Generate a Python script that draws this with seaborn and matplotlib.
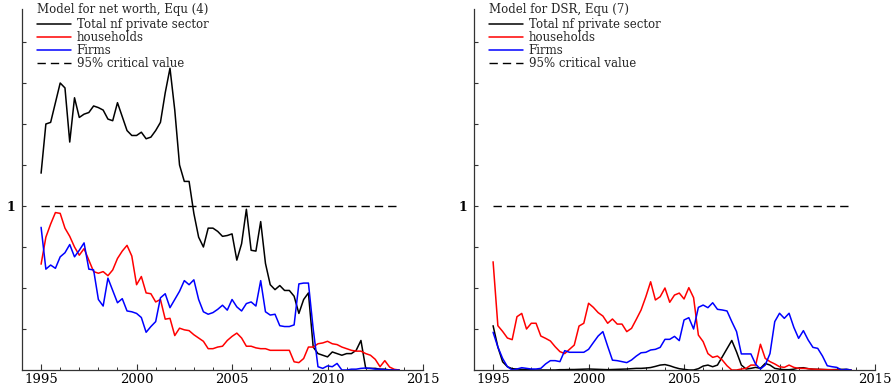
import numpy as np
import pandas as pd
import matplotlib
matplotlib.use("Agg")
import matplotlib.pyplot as plt
from matplotlib.ticker import FixedLocator, MultipleLocator, FuncFormatter
import seaborn as sns

# ---------------- data (quarterly, 1995Q1 .. 2013Q4) ----------------
quarters = np.arange(1995.0, 2014.0, 0.25)

nw_total = [1.20, 1.50, 1.51, 1.63, 1.75, 1.72, 1.39, 1.66, 1.54, 1.56,
            1.57, 1.61, 1.60, 1.585, 1.53, 1.52, 1.63, 1.545, 1.46, 1.43,
            1.43, 1.45, 1.41, 1.42, 1.46, 1.51, 1.69, 1.84, 1.585, 1.25,
            1.15, 1.15, 0.955, 0.81, 0.75, 0.865, 0.865, 0.845, 0.815, 0.82,
            0.83, 0.67, 0.77, 0.98, 0.73, 0.725, 0.905, 0.65, 0.52, 0.49,
            0.515, 0.485, 0.485, 0.45, 0.345, 0.43, 0.47, 0.14, 0.10, 0.09,
            0.08, 0.11, 0.10, 0.09, 0.10, 0.10, 0.12, 0.18, 0.01, 0.01,
            0.01, 0.005, 0.005, 0.0, 0.0, 0.0]
nw_households = [0.645, 0.81, 0.89, 0.96, 0.955, 0.865, 0.815, 0.75, 0.70, 0.74,
                 0.67, 0.60, 0.59, 0.60, 0.575, 0.61, 0.68, 0.725, 0.76, 0.695,
                 0.52, 0.57, 0.47, 0.465, 0.415, 0.43, 0.31, 0.315, 0.21, 0.255,
                 0.245, 0.24, 0.215, 0.195, 0.175, 0.13, 0.13, 0.14, 0.145, 0.18,
                 0.205, 0.225, 0.195, 0.145, 0.145, 0.135, 0.13, 0.13, 0.12, 0.12,
                 0.12, 0.12, 0.12, 0.05, 0.045, 0.07, 0.14, 0.14, 0.16, 0.165,
                 0.175, 0.16, 0.155, 0.14, 0.13, 0.12, 0.115, 0.115, 0.10, 0.09,
                 0.065, 0.02, 0.057, 0.018, 0.004, 0.0]
nw_firms = [0.87, 0.615, 0.64, 0.62, 0.69, 0.715, 0.765, 0.69, 0.73, 0.775,
            0.615, 0.61, 0.43, 0.39, 0.56, 0.485, 0.41, 0.435, 0.36, 0.355,
            0.345, 0.32, 0.23, 0.265, 0.295, 0.44, 0.465, 0.38, 0.43, 0.48,
            0.545, 0.52, 0.55, 0.43, 0.355, 0.34, 0.35, 0.37, 0.395, 0.365,
            0.43, 0.385, 0.36, 0.405, 0.415, 0.39, 0.545, 0.355, 0.335, 0.34,
            0.27, 0.265, 0.265, 0.275, 0.525, 0.53, 0.53, 0.25, 0.02, 0.01,
            0.025, 0.02, 0.04, 0.0, 0.0, 0.005, 0.005, 0.01, 0.012, 0.01,
            0.005, 0.005, 0.002, 0.0, 0.0, 0.0]

dsr_total = [0.27, 0.14, 0.05, 0.02, 0.008, 0.006, 0.004, 0.002, 0.002, 0.0,
             0.0, 0.0, 0.0, 0.0, 0.002, 0.002, 0.003, 0.003, 0.004, 0.005,
             0.006, 0.005, 0.004, 0.003, 0.002, 0.003, 0.004, 0.005, 0.006, 0.008,
             0.01, 0.01, 0.012, 0.015, 0.022, 0.03, 0.033, 0.026, 0.016, 0.008,
             0.004, 0.0, 0.0, 0.008, 0.024, 0.03, 0.02, 0.03, 0.08, 0.13,
             0.18, 0.11, 0.03, 0.006, 0.01, 0.016, 0.01, 0.04, 0.03, 0.01,
             0.005, 0.002, 0.002, 0.005, 0.012, 0.014, 0.008, 0.005, 0.004, 0.003,
             0.002, 0.002, 0.003, 0.004, 0.004, 0.0]
dsr_households = [0.66, 0.27, 0.235, 0.195, 0.185, 0.325, 0.345, 0.25, 0.285, 0.285,
                  0.207, 0.193, 0.177, 0.142, 0.112, 0.10, 0.126, 0.152, 0.268, 0.285,
                  0.407, 0.382, 0.35, 0.329, 0.285, 0.311, 0.28, 0.28, 0.234, 0.254,
                  0.309, 0.366, 0.447, 0.538, 0.427, 0.447, 0.50, 0.413, 0.457, 0.469,
                  0.433, 0.502, 0.441, 0.213, 0.173, 0.10, 0.077, 0.085, 0.061, 0.026,
                  0.0, 0.0, 0.006, 0.01, 0.03, 0.03, 0.157, 0.071, 0.051, 0.037,
                  0.02, 0.016, 0.03, 0.016, 0.01, 0.01, 0.008, 0.005, 0.004, 0.003,
                  0.002, 0.001, 0.0, 0.0, 0.0, 0.0]
dsr_firms = [0.23, 0.14, 0.07, 0.02, 0.0, 0.006, 0.014, 0.01, 0.006, 0.006,
             0.01, 0.037, 0.057, 0.057, 0.051, 0.118, 0.108, 0.108, 0.108, 0.108,
             0.126, 0.167, 0.207, 0.234, 0.145, 0.06, 0.057, 0.051, 0.045, 0.061,
             0.085, 0.105, 0.108, 0.122, 0.126, 0.138, 0.187, 0.187, 0.205, 0.179,
             0.305, 0.319, 0.25, 0.382, 0.396, 0.38, 0.41, 0.37, 0.366, 0.36,
             0.295, 0.234, 0.098, 0.098, 0.098, 0.035, 0.006, 0.03, 0.10, 0.295,
             0.346, 0.315, 0.346, 0.26, 0.193, 0.24, 0.183, 0.138, 0.132, 0.085,
             0.026, 0.02, 0.016, 0.0, 0.004, 0.0]

critical_value = 1.0

panel_titles = ["Model for net worth, Equ (4)", "Model for DSR, Equ (7)"]
series_labels = ["Total nf private sector", "households", "Firms"]
critical_label = "95% critical value"
series_colors = ["#000000", "#ff0000", "#0000ff"]
x_ticks = [1995, 2000, 2005, 2010, 2015]

# ---------------- style ----------------
sns.set_theme(style="ticks")
plt.rcParams["font.family"] = ["DejaVu Serif", "Liberation Serif"]
plt.rcParams["axes.linewidth"] = 0.9
plt.rcParams["axes.edgecolor"] = "#333333"

fig = plt.figure(figsize=(8.96, 3.90), dpi=100)
ax_l = fig.add_axes([22 / 896, 20 / 390, 401 / 896, 2.2 * 164 / 390])
ax_r = fig.add_axes([474 / 896, 20 / 390, 401 / 896, 2.2 * 164 / 390])

panels = [
    (ax_l, [nw_total, nw_households, nw_firms], panel_titles[0]),
    (ax_r, [dsr_total, dsr_households, dsr_firms], panel_titles[1]),
]

for ax, series, title in panels:
    for vals, lab, col in zip(series, series_labels, series_colors):
        df = pd.DataFrame({"year": quarters, "value": vals})
        sns.lineplot(data=df, x="year", y="value", ax=ax, color=col,
                     linewidth=1.1, label=lab)
    dfc = pd.DataFrame({"year": quarters, "value": np.full(len(quarters), critical_value)})
    sns.lineplot(data=dfc, x="year", y="value", ax=ax, color="black",
                 linewidth=1.0, label=critical_label, dashes=False)
    ax.lines[-1].set_linestyle((0, (6, 3.6)))

    ax.set_xlim(1994, 2015)
    ax.set_ylim(0, 2.2)
    ax.set_xlabel("")
    ax.set_ylabel("")
    sns.despine(ax=ax)

    ax.xaxis.set_major_locator(FixedLocator(x_ticks))
    ax.xaxis.set_minor_locator(MultipleLocator(1))
    ax.yaxis.set_major_locator(FixedLocator([0.25, 0.5, 0.75, 1.0, 1.25, 1.5, 1.75, 2.0]))
    ax.yaxis.set_major_formatter(FuncFormatter(lambda v, p: "1" if abs(v - 1) < 1e-9 else ""))
    ax.tick_params(axis="x", which="major", direction="in", length=4, width=0.8,
                   labelsize=9.5, pad=2, colors="#333333", labelcolor="black")
    ax.tick_params(axis="x", which="minor", direction="in", length=2.5, width=0.7,
                   colors="#333333")
    ax.tick_params(axis="y", which="major", direction="in", length=3, width=0.8,
                   labelsize=9, pad=5, colors="#333333", labelcolor="black")
    for t in ax.get_yticklabels():
        t.set_fontweight("bold")

    leg = ax.legend(loc="upper left", bbox_to_anchor=(15 / 401, 1.016),
                    frameon=False, fontsize=8.5, title=title,
                    title_fontsize=8.5, alignment="left",
                    handlelength=2.9, handletextpad=0.45, labelspacing=0.0,
                    borderpad=0, borderaxespad=0)
    leg._legend_box.sep = 1

fig.savefig("out.png", dpi=100)
